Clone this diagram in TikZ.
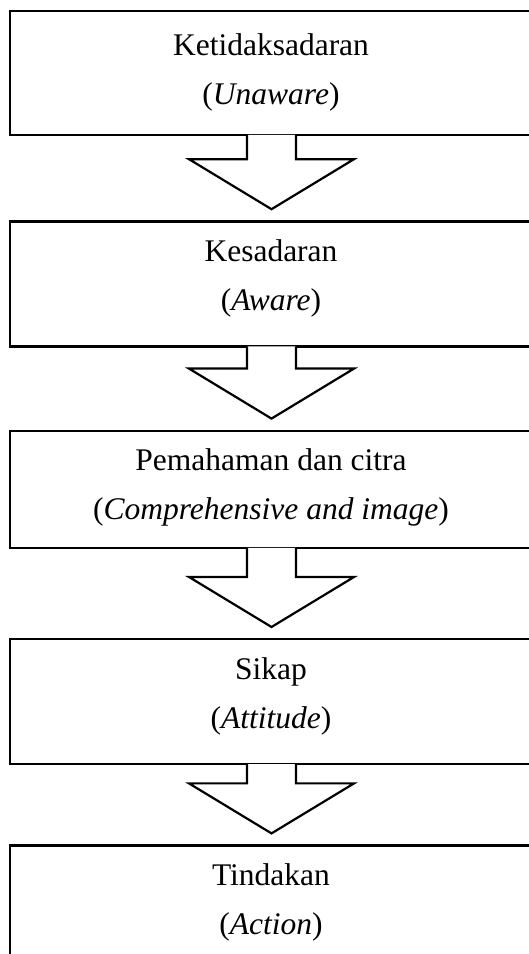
\documentclass[tikz,border=0pt]{standalone}
\usepackage{fontspec}
\setmainfont{Liberation Serif}
\usepackage{tikz}
\usetikzlibrary{positioning,calc}

\begin{document}
\begin{tikzpicture}[
			x=1pt,y=1pt,
			stage/.style={draw=black,line width=2.4pt,minimum width=522pt,inner sep=0pt},
			lbl/.style={anchor=north,inner sep=0pt,align=center,font=\fontsize{31.5}{49}\selectfont},
			barr/.style={draw=black,fill=white,line width=2.2pt,line join=miter}
			]
			\useasboundingbox (0,0) rectangle (529,954);
			\clip (0,0) rectangle (529,954);
			\node[stage,minimum height=124pt] (b1) at (271,881) {};
			\node[stage,minimum height=125pt] (b2) [below=84pt of b1] {};
			\node[stage,minimum height=117pt] (b3) [below=82pt of b2] {};
			\node[stage,minimum height=125pt] (b4) [below=89pt of b3] {};
			\node[stage,minimum height=130pt] (b5) [below=79pt of b4] {};
			\node[lbl] (t1) at ($(b1.north)+(0,-24)$) {Ketidaksadaran\\(\textit{Unaware})};
			\node[lbl] (t2) at ($(b2.north)+(0,-19)$) {Kesadaran\\(\textit{Aware})};
			\node[lbl] (t3) at ($(b3.north)+(0,-19)$) {Pemahaman dan citra\\(\textit{Comprehensive and image})};
			\node[lbl] (t4) at ($(b4.north)+(0,-19)$) {Sikap\\(\textit{Attitude})};
			\node[lbl] (t5) at ($(b5.north)+(0,-19)$) {Tindakan\\(\textit{Action})};
			% block arrows between the stages
			\foreach \u/\v in {b1/b2,b2/b3,b3/b4,b4/b5}{
				\coordinate (\u tip) at ($(\v.north)+(0.5,11)$);
				\coordinate (\u l) at ($(\u.south)+(-24,1.2)$);
				\coordinate (\u r) at ($(\u.south)+(25,1.2)$);
				\coordinate (\u wl) at ($(\u tip)+(-82.5,50)$);
				\coordinate (\u wr) at ($(\u tip)+(82.5,50)$);
				\filldraw[barr] (\u l) -- (\u l |- \u wl) -- (\u wl) -- (\u tip) -- (\u wr) -- (\u r |- \u wr) -- (\u r);
			}
		\end{tikzpicture}
\end{document}
